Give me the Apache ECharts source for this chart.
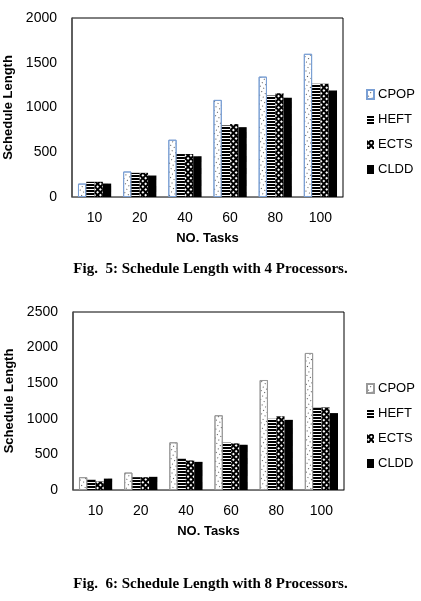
<!DOCTYPE html>
<html lang="en">
<head>
  <meta charset="UTF-8">
  <script src="https://cdn.jsdelivr.net/npm/echarts@6/dist/echarts.min.js"></script>
  <title>Schedule Length</title>
  <style>
    * { margin: 0; padding: 0; }
    html, body { width: 421px; height: 601px; background: #fff; overflow: hidden; }
    #c4 { position: absolute; left: 0; top: 0; width: 421px; height: 290px; }
    #c8 { position: absolute; left: 0; top: 290px; width: 421px; height: 311px; }
  </style>
</head>
<body>
<div id="c4"></div>
<div id="c8"></div>
<script>
  // x categories
  var tasks = ['10', '20', '40', '60', '80', '100'];
  var algos = ['CPOP', 'HEFT', 'ECTS', 'CLDD'];

  // 4 processors
  var cpop4 = [150, 285, 640, 1085, 1345, 1600];
  var heft4 = [170, 270, 480, 800, 1135, 1265];
  var ects4 = [170, 270, 480, 815, 1160, 1265];
  var cldd4 = [150, 240, 455, 780, 1110, 1190];

  // 8 processors
  var cpop8 = [180, 245, 670, 1050, 1545, 1925];
  var heft8 = [145, 180, 440, 665, 1000, 1160];
  var ects8 = [120, 180, 415, 655, 1035, 1160];
  var cldd8 = [160, 185, 395, 635, 985, 1080];

  var sans = 'Liberation Sans';

  // bar styles (pattern fills through decal)
  function styles(cpopBorder) {
    return [
      { color: '#fff', borderColor: cpopBorder, borderWidth: 1,
        decal: { symbol: 'rect', symbolSize: 1, color: '#555', dashArrayX: [1, 3], dashArrayY: [1, 3] } },
      { color: '#000',
        decal: { symbol: 'rect', symbolSize: 1, color: '#fff', dashArrayX: [1, 0], dashArrayY: [1, 2] } },
      { color: '#000',
        decal: { symbol: 'rect', symbolSize: 1, color: '#fff', dashArrayX: [2, 2], dashArrayY: [2, 2] } },
      { color: '#000' }
    ];
  }

  function build(el, data, yMax, grid, legendTop, caption, captionTop, cpopBorder) {
    var chart = echarts.init(document.getElementById(el));
    var st = styles(cpopBorder);
    var series = algos.map(function (name, i) {
      return {
        name: name,
        type: 'bar',
        data: data[i],
        barWidth: 8.3,
        barGap: '0%',
        itemStyle: st[i],
        emphasis: { disabled: true }
      };
    });
    chart.setOption({
      animation: false,
      aria: { enabled: true, decal: { show: true } },
      grid: Object.assign({
        show: true, borderColor: '#000', borderWidth: 1, backgroundColor: '#fff',
        containLabel: false, outerBoundsMode: 'none'
      }, grid),
      legend: {
        orient: 'vertical',
        left: 361,
        top: legendTop,
        icon: 'rect',
        itemWidth: 7,
        itemHeight: 9,
        itemGap: 12,
        textStyle: { fontFamily: sans, fontSize: 13, color: '#000', padding: [0, 0, 0, -1] },
        data: algos
      },
      xAxis: {
        type: 'category',
        data: tasks,
        name: 'NO. Tasks',
        nameLocation: 'middle',
        nameGap: 35,
        nameTextStyle: { fontFamily: sans, fontSize: 13, fontWeight: 'bold', color: '#000' },
        axisLine: { lineStyle: { color: '#777', width: 1 } },
        axisTick: { show: false },
        axisLabel: { fontFamily: sans, fontSize: 14, color: '#000', margin: 14 }
      },
      yAxis: {
        type: 'value',
        min: 0,
        max: yMax,
        interval: 500,
        name: 'Schedule Length',
        nameLocation: 'middle',
        nameGap: 54,
        nameTextStyle: { fontFamily: sans, fontSize: 13, fontWeight: 'bold', color: '#000' },
        axisLine: { show: true, lineStyle: { color: '#555', width: 1.5 } },
        axisTick: { show: false },
        splitLine: { show: false },
        axisLabel: {
          fontFamily: sans, fontSize: 14, color: '#000', margin: 15,
          formatter: function (v) { return String(v); }
        }
      },
      graphic: [{
        type: 'text',
        left: 'center',
        top: captionTop,
        style: {
          text: caption,
          font: 'bold 15px "Liberation Serif"',
          fill: '#000'
        }
      }],
      series: series
    });
  }

  build('c4', [cpop4, heft4, ects4, cldd4], 2000,
    { left: 72, right: 78, top: 18, height: 179 }, 83,
    'Fig.  5: Schedule Length with 4 Processors.', 262, '#7a9fd4');

  build('c8', [cpop8, heft8, ects8, cldd8], 2500,
    { left: 73, right: 77, top: 22, height: 178 }, 87,
    'Fig.  6: Schedule Length with 8 Processors.', 287, '#999');
</script>
</body>
</html>
